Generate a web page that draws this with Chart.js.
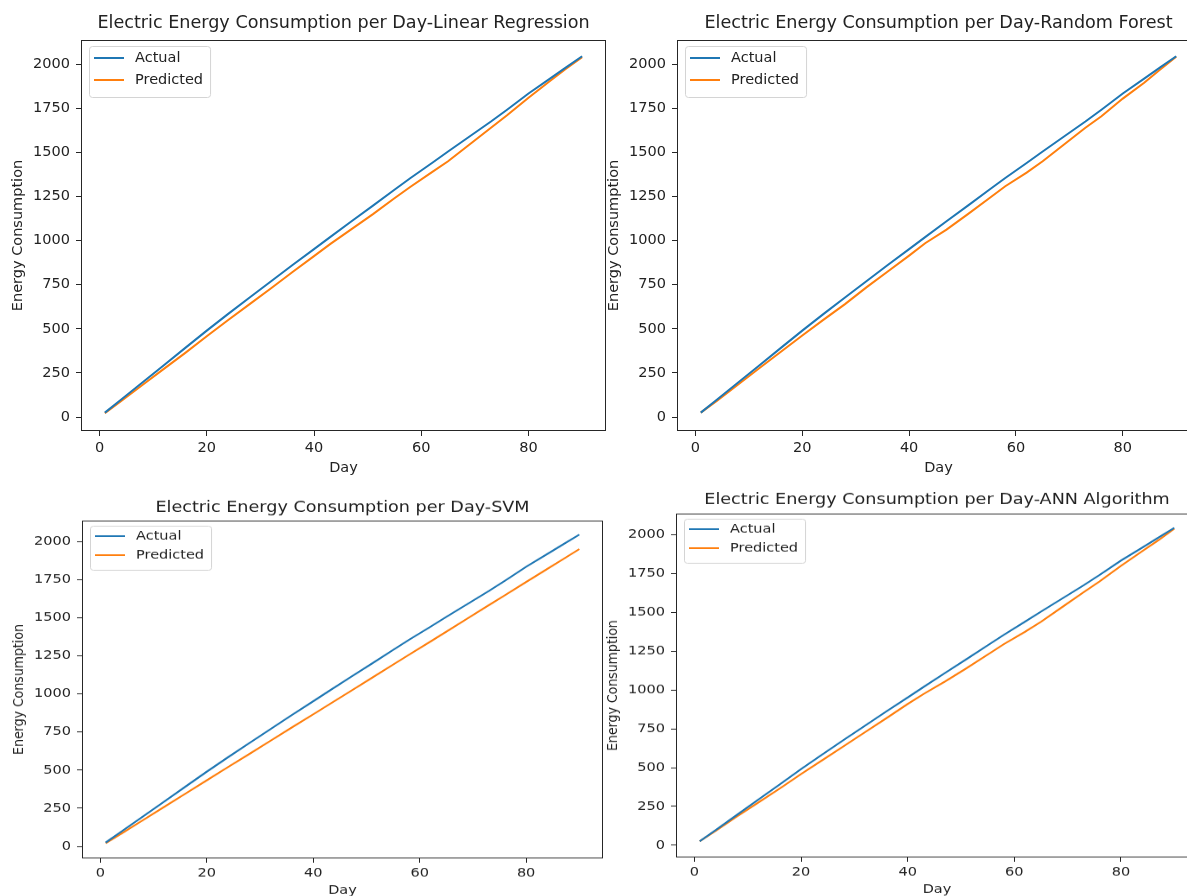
<!DOCTYPE html>
<html>
<head>
<meta charset="utf-8">
<title>Electric Energy Consumption per Day</title>
<script src="https://cdn.jsdelivr.net/npm/chart.js@4.4.1/dist/chart.umd.min.js"></script>
<style>
  html, body { margin: 0; padding: 0; background: #fff; }
  body { width: 1187px; height: 896px; overflow: hidden; position: relative; }
  canvas { position: absolute; transform-origin: 0 0; }
</style>
</head>
<body>
<canvas id="lr"></canvas>
<canvas id="rf"></canvas>
<canvas id="svm"></canvas>
<canvas id="ann"></canvas>
<script>
  // values (day -> energy)
  const days      = [1, 4, 8, 12, 16, 20, 24, 28, 32, 36, 40, 43, 47, 51, 55, 58, 62, 65, 69, 73, 76, 80, 84, 87, 90];
  const actual    = [25, 98, 196, 294, 392, 490, 585, 678, 770, 862, 952, 1020, 1110, 1198, 1288, 1355, 1440, 1505, 1590, 1675, 1742, 1834, 1918, 1982, 2045];
  const predLR    = [22, 90, 182, 273, 364, 458, 550, 640, 730, 822, 912, 980, 1065, 1150, 1240, 1305, 1388, 1450, 1545, 1640, 1710, 1810, 1905, 1975, 2040];
  const predRF    = [25, 92, 185, 278, 370, 462, 552, 640, 735, 825, 915, 985, 1062, 1150, 1240, 1308, 1385, 1450, 1545, 1640, 1705, 1805, 1895, 1970, 2042];
  const predSVM   = [20, 85, 172, 259, 346, 433, 520, 606, 693, 780, 866, 931, 1018, 1105, 1192, 1257, 1343, 1408, 1495, 1582, 1647, 1734, 1820, 1885, 1950];
  const predANN   = [25, 92, 185, 275, 365, 458, 548, 638, 728, 818, 910, 975, 1055, 1140, 1228, 1295, 1375, 1440, 1535, 1630, 1700, 1800, 1895, 1965, 2040];

  const seriesNames = ['Actual', 'Predicted'];
  const xTicks = [0, 20, 40, 60, 80];
  const yTicks = [0, 250, 500, 750, 1000, 1250, 1500, 1750, 2000];

  const FONT = '"DejaVu Sans", sans-serif';
  const INK = '#222';
  Chart.defaults.font.family = FONT;
  Chart.defaults.color = INK;

  // panel placement on the page (the lower two screenshots are squashed vertically)
  const panels = [
    { id: 'lr',  title: 'Electric Energy Consumption per Day-Linear Regression', pred: predLR,  left: 0,   top: 0,   plotW: 525, height: 480, plotBottom: 431, squash: 1,     titleY: 23 },
    { id: 'rf',  title: 'Electric Energy Consumption per Day-Random Forest',     pred: predRF,  left: 596, top: 0,   plotW: 523, height: 480, plotBottom: 431, squash: 1,     titleY: 23 },
    { id: 'svm', title: 'Electric Energy Consumption per Day-SVM',               pred: predSVM, left: 1,   top: 486, plotW: 521, height: 480, plotBottom: 431, squash: 0.864, titleY: 25 },
    { id: 'ann', title: 'Electric Energy Consumption per Day-ANN Algorithm',     pred: predANN, left: 595, top: 479, plotW: 522, height: 490, plotBottom: 438, squash: 0.864, titleY: 24 }
  ];

  // title centred over the axes box, like matplotlib
  const axTitle = {
    id: 'axTitle',
    afterDraw(chart, args, opts) {
      const { ctx, chartArea } = chart;
      ctx.save();
      ctx.font = '17.6px ' + FONT;
      ctx.fillStyle = INK;
      ctx.textAlign = 'center';
      ctx.textBaseline = 'middle';
      ctx.fillText(opts.text, (chartArea.left + chartArea.right) / 2, opts.y);
      ctx.restore();
    }
  };

  // four spines
  const frame = {
    id: 'frame',
    afterDatasetsDraw(chart) {
      const { ctx, chartArea: a } = chart;
      ctx.save();
      ctx.strokeStyle = '#262626';
      ctx.lineWidth = 1;
      ctx.strokeRect(Math.round(a.left) + 0.5, Math.round(a.top) + 0.5,
                     Math.round(a.right - a.left) - 1, Math.round(a.bottom - a.top) - 1);
      ctx.restore();
    }
  };

  // legend box in the upper left corner of the axes
  const boxLegend = {
    id: 'boxLegend',
    afterDraw(chart) {
      const { ctx, chartArea } = chart;
      const x0 = chartArea.left + 8, y0 = chartArea.top + 6;
      const textX = x0 + 46;
      ctx.save();
      ctx.font = '14.5px ' + FONT;
      let w = 0;
      chart.data.datasets.forEach(ds => { w = Math.max(w, ctx.measureText(ds.label).width); });
      ctx.beginPath();
      ctx.roundRect(x0 + 0.5, y0 + 0.5, textX + w + 7 - x0, 51, 3);
      ctx.fillStyle = 'rgba(255,255,255,0.8)';
      ctx.fill();
      ctx.strokeStyle = '#d4d4d4';
      ctx.lineWidth = 1;
      ctx.stroke();
      chart.data.datasets.forEach((ds, i) => {
        const cy = y0 + 12 + i * 22;
        ctx.strokeStyle = ds.borderColor;
        ctx.lineWidth = 2;
        ctx.beginPath();
        ctx.moveTo(x0 + 5, cy);
        ctx.lineTo(x0 + 35, cy);
        ctx.stroke();
        ctx.fillStyle = INK;
        ctx.textBaseline = 'middle';
        ctx.fillText(ds.label, textX, cy);
      });
      ctx.restore();
    }
  };

  function makeSeries(values) {
    return days.map((d, i) => ({ x: d, y: values[i] }));
  }

  function axisTicks(values) {
    return function (scale) { scale.ticks = values.map(v => ({ value: v })); };
  }

  panels.forEach(p => {
    const canvas = document.getElementById(p.id);
    const width = 81 + p.plotW + 10;
    canvas.width = width;
    canvas.height = p.height;
    canvas.style.left = p.left + 'px';
    canvas.style.top = p.top + 'px';
    if (p.squash !== 1) canvas.style.transform = 'scaleY(' + p.squash + ')';

    new Chart(canvas, {
      type: 'line',
      data: {
        datasets: [
          { label: seriesNames[0], data: makeSeries(actual), borderColor: '#1f77b4', borderWidth: 2, pointRadius: 0, tension: 0 },
          { label: seriesNames[1], data: makeSeries(p.pred), borderColor: '#ff7f0e', borderWidth: 2, pointRadius: 0, tension: 0 }
        ]
      },
      options: {
        responsive: false,
        animation: false,
        events: [],
        layout: { padding: { top: 40, left: 0, right: 10, bottom: p.height - p.plotBottom - 46 } },
        plugins: {
          legend: { display: false },
          tooltip: { enabled: false },
          axTitle: { text: p.title, y: p.titleY }
        },
        scales: {
          x: {
            type: 'linear',
            min: -3.45,
            max: 94.45,
            afterBuildTicks: axisTicks(xTicks),
            afterFit: scale => { scale.height = 46; },
            grid: { drawOnChartArea: false, drawTicks: true, tickLength: 5, color: '#262626' },
            border: { display: false },
            ticks: { callback: v => String(v), font: { size: 14.5 }, padding: 4, maxRotation: 0, color: INK },
            title: { display: true, text: 'Day', font: { size: 14.5 }, padding: { top: 0, bottom: 0 }, color: INK }
          },
          y: {
            type: 'linear',
            min: -79,
            max: 2137,
            afterBuildTicks: axisTicks(yTicks),
            afterFit: scale => { scale.width = 81; },
            grid: { drawOnChartArea: false, drawTicks: true, tickLength: 5, color: '#262626' },
            border: { display: false },
            ticks: { callback: v => String(v), font: { size: 14.5 }, padding: 6, color: INK },
            title: { display: true, text: 'Energy Consumption', font: { size: 14.5 }, padding: { top: 10, bottom: 0 }, color: INK }
          }
        }
      },
      plugins: [frame, boxLegend, axTitle]
    });
  });
</script>
</body>
</html>
